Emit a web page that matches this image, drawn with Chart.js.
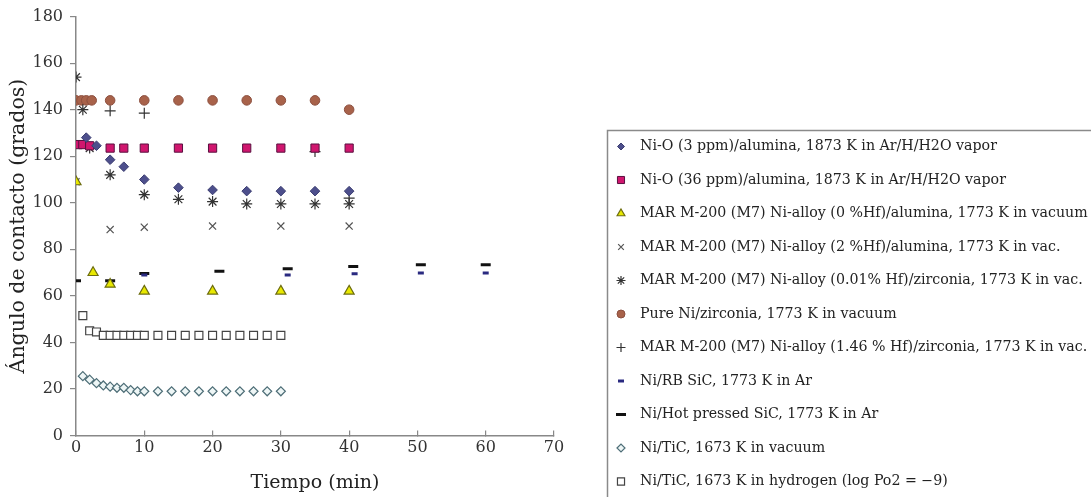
<!DOCTYPE html>
<html><head><meta charset="utf-8">
<script src="https://cdn.jsdelivr.net/npm/chart.js@4.4.1/dist/chart.umd.min.js"></script>
<style>html,body{margin:0;padding:0;background:#fff;overflow:hidden}#wrap{width:1091px;height:497px;position:relative}</style>
</head><body><div id="wrap"><canvas id="c" width="1091" height="497"></canvas></div>
<script>
// ---- data (time in min, contact angle in degrees) ----
const xAxisTitle = 'Tiempo (min)';
const yAxisTitle = 'Ángulo de contacto (grados)';
const xRange = [0, 70, 10];
const yRange = [0, 180, 20];
const seriesLabels = [
  'Ni-O (3 ppm)/alumina, 1873 K in Ar/H/H2O vapor',
  'Ni-O (36 ppm)/alumina, 1873 K in Ar/H/H2O vapor',
  'MAR M-200 (M7) Ni-alloy (0 %Hf)/alumina, 1773 K in vacuum',
  'MAR M-200 (M7) Ni-alloy (2 %Hf)/alumina, 1773 K in vac.',
  'MAR M-200 (M7) Ni-alloy (0.01% Hf)/zirconia, 1773 K in vac.',
  'Pure Ni/zirconia, 1773 K in vacuum',
  'MAR M-200 (M7) Ni-alloy (1.46 % Hf)/zirconia, 1773 K in vac.',
  'Ni/RB SiC, 1773 K in Ar',
  'Ni/Hot pressed SiC, 1773 K in Ar',
  'Ni/TiC, 1673 K in vacuum',
  'Ni/TiC, 1673 K in hydrogen (log Po2 = \u22129)'
];
const niO3ppm = [[1.5,128],[3,124.5],[5,118.5],[7,115.5],[10,110],[15,106.5],[20,105.5],[25,105],[30,105],[35,105],[40,105]];
const niO36ppm = [[0.3,125],[1,125],[2,124.5],[5,123.5],[7,123.5],[10,123.5],[15,123.5],[20,123.5],[25,123.5],[30,123.5],[35,123.5],[40,123.5]];
const mar0Hf = [[0,109],[2.5,70],[5,65],[10,62],[20,62],[30,62],[40,62]];
const mar2Hf = [[0,109],[5,88.5],[10,89.5],[20,90],[30,90],[40,90]];
const mar001Hf = [[0,154],[1,140],[2,123.5],[5,112],[10,103.5],[15,101.5],[20,100.5],[25,99.5],[30,99.5],[35,99.5],[40,99.5]];
const pureNi = [[0,144],[0.8,144],[1.5,144],[2.3,144],[5,144],[10,144],[15,144],[20,144],[25,144],[30,144],[35,144],[40,140]];
const mar146Hf = [[5,139.5],[10,138.5],[35,122],[40,102]];
const rbSiC = [[5,65.5],[10,69],[31,69],[40.8,69.5],[50.5,69.8],[60,69.8]];
const hpSiC = [[0,66.5],[5,66.5],[10,69.6],[21,70.6],[31,71.6],[40.6,72.6],[50.5,73.4],[60,73.4]];
const ticVacuum = [[1,25.5],[2,24],[3,22.5],[4,21.5],[5,21],[6,20.5],[7,20.5],[8,19.5],[9,19],[10,19],[12,19],[14,19],[16,19],[18,19],[20,19],[22,19],[24,19],[26,19],[28,19],[30,19]];
const ticHydrogen = [[1,51.5],[2,45],[3,44.5],[4,43],[5,43],[6,43],[7,43],[8,43],[9,43],[10,43],[12,43],[14,43],[16,43],[18,43],[20,43],[22,43],[24,43],[26,43],[28,43],[30,43]];

const seriesData = [niO3ppm, niO36ppm, mar0Hf, mar2Hf, mar001Hf, pureNi, mar146Hf, rbSiC, hpSiC, ticVacuum, ticHydrogen];
const styles = [
  {ps:'rectRot', r:4.8, fill:'#4d4f8c', stroke:'#3a3c70', bw:1, lr:3.5},
  {ps:'rect', r:5.8, fill:'#d0166e', stroke:'#5a1040', bw:1, lr:5},
  {ps:'triangle', r:5.8, fill:'#e8e800', stroke:'#6e6e10', bw:1.2, lr:4.5},
  {ps:'crossRot', r:5, fill:'#555', stroke:'#555', bw:1.2, lr:4},
  {ps:'star', r:5.5, fill:'#333', stroke:'#333', bw:1.2, lr:4.5},
  {ps:'circle', r:4.8, fill:'#a8624a', stroke:'#8c5040', bw:1, lr:4},
  {ps:'cross', r:5.5, fill:'#333', stroke:'#333', bw:1.2, lr:4.5},
  {ps:'line', r:3, fill:'#2a2a80', stroke:'#2a2a80', bw:3, lr:3},
  {ps:'line', r:5, fill:'#111', stroke:'#111', bw:3, lr:5},
  {ps:'rectRot', r:4.5, fill:'#eef6f6', stroke:'#4f6f78', bw:1.2, lr:4},
  {ps:'rect', r:5.6, fill:'#ffffff', stroke:'#444', bw:1.2, lr:5}
];

const datasets = seriesData.map((arr, i) => ({
  label: seriesLabels[i],
  data: arr.map(p => ({x: p[0], y: p[1]})),
  pointStyle: styles[i].ps,
  pointRadius: styles[i].r,
  pointBackgroundColor: styles[i].fill,
  pointBorderColor: styles[i].stroke,
  pointBorderWidth: styles[i].bw,
  showLine: false
}));

function manualPoint(ctx, ps, r, x, y) {
  ctx.beginPath();
  const s = r * Math.SQRT1_2;
  switch (ps) {
    case 'circle': ctx.arc(x, y, r, 0, Math.PI*2); ctx.fill(); ctx.stroke(); return;
    case 'rect': ctx.rect(x-s, y-s, 2*s, 2*s); ctx.fill(); ctx.stroke(); return;
    case 'rectRot': ctx.moveTo(x, y-r); ctx.lineTo(x+r, y); ctx.lineTo(x, y+r); ctx.lineTo(x-r, y); ctx.closePath(); ctx.fill(); ctx.stroke(); return;
    case 'triangle': ctx.moveTo(x, y-r); ctx.lineTo(x+r*0.866, y+r*0.5); ctx.lineTo(x-r*0.866, y+r*0.5); ctx.closePath(); ctx.fill(); ctx.stroke(); return;
    case 'cross': ctx.moveTo(x, y-r); ctx.lineTo(x, y+r); ctx.moveTo(x-r, y); ctx.lineTo(x+r, y); ctx.stroke(); return;
    case 'crossRot': ctx.moveTo(x-s, y-s); ctx.lineTo(x+s, y+s); ctx.moveTo(x+s, y-s); ctx.lineTo(x-s, y+s); ctx.stroke(); return;
    case 'star': ctx.moveTo(x, y-r); ctx.lineTo(x, y+r); ctx.moveTo(x-r, y); ctx.lineTo(x+r, y); ctx.moveTo(x-s, y-s); ctx.lineTo(x+s, y+s); ctx.moveTo(x+s, y-s); ctx.lineTo(x-s, y+s); ctx.stroke(); return;
    case 'line': ctx.moveTo(x-r, y); ctx.lineTo(x+r, y); ctx.stroke(); return;
  }
}

const boxLegend = {
  id: 'boxLegend',
  afterDraw(chart) {
    const ctx = chart.ctx;
    ctx.save();
    ctx.strokeStyle = '#8a8a8a';
    ctx.lineWidth = 1.5;
    ctx.strokeRect(607.5, 130.5, 700, 400);
    chart.data.datasets.forEach((ds, i) => {
      const y = 146.5 + i * 33.5;
      const st = styles[i];
      ctx.fillStyle = st.fill;
      ctx.strokeStyle = st.stroke;
      ctx.lineWidth = st.bw;
      if (Chart.helpers && Chart.helpers.drawPoint) {
        Chart.helpers.drawPoint(ctx, {pointStyle: st.ps, radius: st.lr, borderWidth: st.bw, rotation: 0}, 621, y);
      } else {
        manualPoint(ctx, st.ps, st.lr, 621, y);
      }
      ctx.fillStyle = '#222';
      ctx.font = '14.2px "DejaVu Serif", serif';
      ctx.textBaseline = 'middle';
      ctx.textAlign = 'left';
      ctx.fillText(ds.label, 640, y);
    });
    ctx.restore();
  }
};

Chart.defaults.font.family = '"DejaVu Serif", serif';
Chart.defaults.color = '#333';

new Chart(document.getElementById('c'), {
  type: 'scatter',
  data: { datasets },
  plugins: [boxLegend],
  options: {
    responsive: false,
    animation: false,
    events: [],
    layout: { padding: { top: 16, right: 537, bottom: 0, left: 0 } },
    plugins: { legend: { display: false }, tooltip: { enabled: false } },
    scales: {
      x: {
        type: 'linear', min: xRange[0], max: xRange[1],
        ticks: { stepSize: xRange[2], font: { size: 16 }, color: '#333', padding: 8 },
        grid: { drawOnChartArea: false, drawTicks: true, tickLength: -5, color: '#888', lineWidth: 1.2 },
        border: { color: '#888', width: 1.5 },
        title: { display: true, text: xAxisTitle, font: { size: 19 }, color: '#222', padding: { top: 3, bottom: 3 } },
        afterFit: s => { s.height = 61.5; }
      },
      y: {
        type: 'linear', min: yRange[0], max: yRange[1],
        ticks: { stepSize: yRange[2], font: { size: 16 }, color: '#333', padding: 7 },
        grid: { drawOnChartArea: false, drawTicks: true, tickLength: 6, color: '#888', lineWidth: 1.2 },
        border: { color: '#888', width: 1.5 },
        title: { display: true, text: yAxisTitle, font: { size: 20.5 }, color: '#222', padding: { top: 6, bottom: 0 } },
        afterFit: s => { s.width = 76; }
      }
    }
  }
});
</script>
</body></html>
